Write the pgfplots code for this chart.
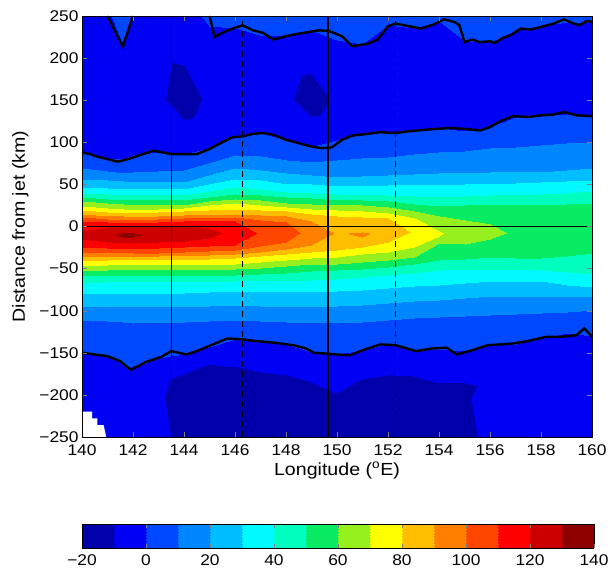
\documentclass[border=0pt]{standalone}
\usepackage{fontspec}
\setmainfont{Liberation Sans}[FakeStretch=1.12]
\usepackage{pgfplots}
\pgfplotsset{compat=1.18}
\begin{document}
\begin{tikzpicture}
\begin{axis}[
  view={0}{90},
  scale only axis, width=510pt, height=421pt,
  xmin=140, xmax=160, ymin=-250, ymax=250, zmin=-1, zmax=1,
  ztick=\empty,
  xtick={140,142,...,160},
  ytick={-250,-200,...,250},
  yticklabels={−250,−200,−150,−100,−50,0,50,100,150,200,250},
  tick align=inside,
  major tick length=5pt,
  /pgf/number format/assume math mode=true,
  ticklabel style={font=\fontsize{15.5}{17}\selectfont},
  xticklabel style={yshift=-4pt},
  label style={font=\fontsize{17.5}{20}\selectfont},
  xlabel={Longitude (\textsuperscript{o}E)},
  ylabel={Distance from jet (km)},
  ylabel style={yshift=4pt},
  axis line style={black, line width=0.6pt},
  colormap={jetlev}{rgb255=(0,0,170) rgb255=(0,0,245) rgb255=(0,72,255)
    rgb255=(0,135,255) rgb255=(0,190,255) rgb255=(0,250,255) rgb255=(0,255,190)
    rgb255=(10,235,100) rgb255=(150,240,30) rgb255=(255,255,0) rgb255=(255,190,0)
    rgb255=(255,128,0) rgb255=(255,70,0) rgb255=(255,0,0) rgb255=(205,0,0)
    rgb255=(140,0,0)},
  colormap access=piecewise constant,
  point meta min=-20, point meta max=140,
  colorbar horizontal,
  colorbar style={
    at={(0,-0.2067)}, anchor=north west,
    width=512pt, height=24pt,
    xtick={-20,0,...,140},
    xticklabels={−20,0,20,40,60,80,100,120,140},
    xtick pos=both, xticklabel pos=lower,
    tick align=inside, major tick length=4pt,
    ticklabel style={font=\fontsize{15.5}{17}\selectfont},
    xticklabel style={yshift=-3pt},
    axis line style={black, line width=0.6pt}
  },
]
\addplot3[surf, shader=interp, point meta=explicit]
  table[x=x, y=y, z expr=0, meta=v] {
x y v
140 250 -3
140 245 -3
140 152 -5
140 88 0
140 69 10
140 55 20
140 47 30
140 40 40
140 35 50
140 30 60
140 24 70
140 20 80
140 15 90
140 11 100
140 6 110
140 -5 120
140 -10 122
140 -10 122
140 -10 122
140 -15 120
140 -24 110
140 -30 100
140 -35 90
140 -40 80
140 -46 70
140 -52 60
140 -58 50
140 -67 40
140 -79 30
140 -95 20
140 -111 10
140 -150 0
140 -200 -5
140 -250 -5.5

141 250 -1
141 245 -1.5
141 152 -5
141 80 0
141 66 10
141 55 20
141 46 30
141 39 40
141 33 50
141 28 60
141 22 70
141 17 80
141 13 90
141 9 100
141 5 110
141 -1 120
141 -10 126
141 -10 126
141 -10 126
141 -18 120
141 -25 110
141 -30 100
141 -35 90
141 -40 80
141 -46 70
141 -52 60
141 -58 50
141 -66 40
141 -79 30
141 -95 20
141 -112 10
141 -154 0
141 -200 -5
141 -250 -5.5

141.6 250 3
141.6 214 0
141.6 152 -5
141.6 80 0
141.6 64 10
141.6 54 20
141.6 45 30
141.6 38 40
141.6 32 50
141.6 27 60
141.6 21 70
141.6 16 80
141.6 12 90
141.6 8 100
141.6 4 110
141.6 -1 120
141.6 -7 130
141.6 -10 134
141.6 -13 130
141.6 -19 120
141.6 -25 110
141.6 -30 100
141.6 -35 90
141.6 -39 80
141.6 -45 70
141.6 -51 60
141.6 -58 50
141.6 -65 40
141.6 -79 30
141.6 -95 20
141.6 -114 10
141.6 -163 0
141.6 -205 -5
141.6 -250 -5.5

142 250 -1
142 245 -1.5
142 152 -5
142 85 0
142 65 10
142 53 20
142 45 30
142 37 40
142 31 50
142 26 60
142 20 70
142 16 80
142 11 90
142 8 100
142 4 110
142 0 120
142 -8 130
142 -10 133
142 -12 130
142 -20 120
142 -26 110
142 -31 100
142 -36 90
142 -39 80
142 -45 70
142 -51 60
142 -58 50
142 -65 40
142 -79 30
142 -95 20
142 -115 10
142 -168 0
142 -210 -5
142 -250 -6

143 250 -3
143 245 -3
143 152 -7.5
143 89 0
143 66 10
143 53 20
143 45 30
143 37 40
143 31 50
143 26 60
143 21 70
143 17 80
143 12 90
143 9 100
143 5 110
143 0 120
143 -9 126
143 -9 126
143 -9 126
143 -18 120
143 -25 110
143 -31 100
143 -35 90
143 -39 80
143 -45 70
143 -51 60
143 -58 50
143 -65 40
143 -79 30
143 -95 20
143 -114 10
143 -156 0
143 -185 -9
143 -250 -7

144 250 -2
144 245 -2
144 152 -16
144 86 0
144 67 10
144 53 20
144 45 30
144 37 40
144 31 50
144 26 60
144 22 70
144 18 80
144 14 90
144 10 100
144 6 110
144 2 120
144 -9 127
144 -9 127
144 -9 127
144 -17 120
144 -24 110
144 -30 100
144 -34 90
144 -39 80
144 -45 70
144 -51 60
144 -58 50
144 -65 40
144 -79 30
144 -95 20
144 -113 10
144 -151 0
144 -178 -11
144 -250 -13

145 250 1
145 238 0
145 152 -7.5
145 93 0
145 75 10
145 61 20
145 51 30
145 42 40
145 35 50
145 30 60
145 25 70
145 19 80
145 14 90
145 10 100
145 6 110
145 -2 120
145 -8 123
145 -8 123
145 -8 123
145 -14 120
145 -23 110
145 -29 100
145 -34 90
145 -39 80
145 -45 70
145 -51 60
145 -58 50
145 -65 40
145 -78 30
145 -94 20
145 -112 10
145 -143 0
145 -166 -11
145 -250 -13

146 250 2
146 236 0
146 152 -5
146 106 0
146 85 10
146 69 20
146 57 30
146 47 40
146 39 50
146 33 60
146 28 70
146 20 80
146 15 90
146 11 100
146 6 110
146 -8 117
146 -8 117
146 -8 117
146 -8 117
146 -8 117
146 -22 110
146 -28 100
146 -33 90
146 -38 80
146 -45 70
146 -51 60
146 -58 50
146 -65 40
146 -77 30
146 -93 20
146 -111 10
146 -134 0
146 -169 -11
146 -250 -13

147 250 3
147 227 0
147 152 -5
147 111 0
147 84 10
147 67 20
147 55 30
147 45 40
147 37 50
147 31 60
147 26 70
147 19 80
147 14 90
147 8 100
147 -8 109
147 -8 109
147 -8 109
147 -8 109
147 -8 109
147 -8 109
147 -8 109
147 -23 100
147 -30 90
147 -35 80
147 -42 70
147 -49 60
147 -56 50
147 -64 40
147 -77 30
147 -94 20
147 -112 10
147 -136 0
147 -176 -11
147 -250 -13

148 250 3
148 226 0
148 152 -7.5
148 103 0
148 79 10
148 63 20
148 51 30
148 41 40
148 35 50
148 28 60
148 23 70
148 18 80
148 12 90
148 5 100
148 -8 104
148 -8 104
148 -8 104
148 -8 104
148 -8 104
148 -8 104
148 -8 104
148 -18 100
148 -27 90
148 -33 80
148 -40 70
148 -47 60
148 -55 50
148 -64 40
148 -77 30
148 -95 20
148 -113 10
148 -140 0
148 -180 -11
148 -250 -13

149 250 2
149 233 0
149 152 -16
149 94 0
149 77 10
149 61 20
149 50 30
149 40 40
149 34 50
149 27 60
149 21 70
149 15 80
149 7 90
149 -8 97
149 -8 97
149 -8 97
149 -8 97
149 -8 97
149 -8 97
149 -8 97
149 -8 97
149 -8 97
149 -22 90
149 -30 80
149 -38 70
149 -45 60
149 -53 50
149 -63 40
149 -77 30
149 -95 20
149 -114 10
149 -149 0
149 -188 -11
149 -250 -13

150 250 3
150 222 0
150 152 -7.5
150 103 0
150 79 10
150 59 20
150 48 30
150 39 40
150 32 50
150 26 60
150 20 70
150 12 80
150 -8 89
150 -8 89
150 -8 89
150 -8 89
150 -8 89
150 -8 89
150 -8 89
150 -8 89
150 -8 89
150 -8 89
150 -8 89
150 -28 80
150 -36 70
150 -44 60
150 -52 50
150 -62 40
150 -77 30
150 -95 20
150 -115 10
150 -152 0
150 -203 -11
150 -250 -13

151 250 3
151 217 0
151 152 -5
151 110 0
151 81 10
151 60 20
151 48 30
151 38 40
151 31 50
151 25 60
151 18 70
151 11 80
151 -6 90
151 -9 92
151 -9 92
151 -9 92
151 -9 92
151 -9 92
151 -9 92
151 -9 92
151 -9 92
151 -9 92
151 -12 90
151 -24 80
151 -33 70
151 -42 60
151 -50 50
151 -60 40
151 -75 30
151 -93 20
151 -113 10
151 -147 0
151 -185 -11
151 -250 -13

152 250 2
152 239 0
152 152 -5
152 112 0
152 83 10
152 61 20
152 49 30
152 37 40
152 30 50
152 23 60
152 16 70
152 10 80
152 -7 86
152 -7 86
152 -7 86
152 -7 86
152 -7 86
152 -7 86
152 -7 86
152 -7 86
152 -7 86
152 -7 86
152 -7 86
152 -18 80
152 -30 70
152 -40 60
152 -48 50
152 -58 40
152 -73 30
152 -91 20
152 -111 10
152 -140 0
152 -180 -11
152 -250 -13

153 250 2
153 236 0
153 152 -5
153 114 0
153 86 10
153 62 20
153 49 30
153 36 40
153 27 50
153 18 60
153 10 70
153 -7 79
153 -7 79
153 -7 79
153 -7 79
153 -7 79
153 -7 79
153 -7 79
153 -7 79
153 -7 79
153 -7 79
153 -7 79
153 -7 79
153 -7 79
153 -24 70
153 -36 60
153 -45 50
153 -55 40
153 -71 30
153 -89 20
153 -109 10
153 -147 0
153 -181 -11
153 -250 -13

154 250 1
154 244 0
154 152 -5
154 117 0
154 89 10
154 63 20
154 49 30
154 35 40
154 24 50
154 12 60
154 -5 70
154 -8 71
154 -8 71
154 -8 71
154 -8 71
154 -8 71
154 -8 71
154 -8 71
154 -8 71
154 -8 71
154 -8 71
154 -8 71
154 -8 71
154 -8 71
154 -11 70
154 -20 60
154 -40 50
154 -52 40
154 -69 30
154 -87 20
154 -107 10
154 -146 0
154 -189 -11
154 -250 -13

155 250 3
155 220 0
155 152 -5
155 114 0
155 90 10
155 64 20
155 50 30
155 36 40
155 25 50
155 8 60
155 -7 66
155 -7 66
155 -7 66
155 -7 66
155 -7 66
155 -7 66
155 -7 66
155 -7 66
155 -7 66
155 -7 66
155 -7 66
155 -7 66
155 -7 66
155 -7 66
155 -7 66
155 -21 60
155 -39 50
155 -51 40
155 -67 30
155 -85 20
155 -106 10
155 -148 0
155 -189 -11
155 -250 -13

156 250 3
156 219 0
156 152 -5
156 118 0
156 93 10
156 65 20
156 51 30
156 37 40
156 26 50
156 3 60
156 -6 62
156 -6 62
156 -6 62
156 -6 62
156 -6 62
156 -6 62
156 -6 62
156 -6 62
156 -6 62
156 -6 62
156 -6 62
156 -6 62
156 -6 62
156 -6 62
156 -6 62
156 -15 60
156 -36 50
156 -50 40
156 -65 30
156 -83 20
156 -105 10
156 -141 0
156 -190 -9
156 -250 -7

157 250 2
157 233 0
157 152 -5
157 130 0
157 95 10
157 65 20
157 52 30
157 38 40
157 26 50
157 -8 59
157 -8 59
157 -8 59
157 -8 59
157 -8 59
157 -8 59
157 -8 59
157 -8 59
157 -8 59
157 -8 59
157 -8 59
157 -8 59
157 -8 59
157 -8 59
157 -8 59
157 -8 59
157 -8 59
157 -37 50
157 -51 40
157 -65 30
157 -83 20
157 -104 10
157 -139 0
157 -200 -5
157 -250 -6

158 250 2
158 238 0
158 152 -5
158 131 0
158 97 10
158 65 20
158 53 30
158 39 40
158 26 50
158 -6 57
158 -6 57
158 -6 57
158 -6 57
158 -6 57
158 -6 57
158 -6 57
158 -6 57
158 -6 57
158 -6 57
158 -6 57
158 -6 57
158 -6 57
158 -6 57
158 -6 57
158 -6 57
158 -6 57
158 -38 50
158 -52 40
158 -65 30
158 -83 20
158 -103 10
158 -133 0
158 -200 -5
158 -250 -6

159 250 1
159 243 0
159 152 -5
159 134 0
159 99 10
159 67 20
159 54 30
159 40 40
159 27 50
159 -4 57
159 -4 57
159 -4 57
159 -4 57
159 -4 57
159 -4 57
159 -4 57
159 -4 57
159 -4 57
159 -4 57
159 -4 57
159 -4 57
159 -4 57
159 -4 57
159 -4 57
159 -4 57
159 -4 57
159 -35 50
159 -54 40
159 -69 30
159 -83 20
159 -101 10
159 -127 0
159 -200 -5
159 -250 -6

160 250 1
160 243 0
160 152 -5
160 130 0
160 100 10
160 69 20
160 55 30
160 42 40
160 28 50
160 -2 56
160 -2 56
160 -2 56
160 -2 56
160 -2 56
160 -2 56
160 -2 56
160 -2 56
160 -2 56
160 -2 56
160 -2 56
160 -2 56
160 -2 56
160 -2 56
160 -2 56
160 -2 56
160 -2 56
160 -32 50
160 -56 40
160 -72 30
160 -83 20
160 -99 10
160 -130 0
160 -200 -5
160 -250 -6
};
% missing-data patch in the lower left corner
\addplot3[fill=white, draw=none] coordinates {
  (140,-250,0) (140,-220,0) (140.4,-220,0) (140.4,-228,0) (140.6,-228,0)
  (140.6,-236,0) (140.85,-236,0) (140.95,-250,0)};
% reference lines
\addplot3[black, line width=1.4pt] coordinates {(143.5,-250,0) (143.5,250,0)};
\addplot3[black, line width=1.4pt, dash pattern=on 6pt off 4pt] coordinates {(146.3,-250,0) (146.3,250,0)};
\addplot3[black, line width=1.4pt] coordinates {(149.65,-250,0) (149.65,250,0)};
\addplot3[black, line width=1.4pt, dash pattern=on 6pt off 4pt] coordinates {(152.3,-250,0) (152.3,250,0)};
\addplot3[black, line width=1.4pt] coordinates {(140,0,0) (160,0,0)};
% zero contours
\addplot3[black, line width=2.4pt] coordinates {
  (141.0,250,0) (141.3,232,0) (141.6,214,0) (141.8,232,0) (142.0,250,0)};
\addplot3[black, line width=2.4pt] coordinates {
  (145.0,250,0) (145.2,225,0) (145.5,230,0) (145.9,235,0) (146.3,239,0)
  (146.7,233,0) (147.1,230,0) (147.5,222,0) (148.0,226,0) (148.5,229,0)
  (149.3,233,0) (149.7,232,0) (150.2,226,0) (150.6,214,0) (151.2,217,0)
  (151.6,222,0) (152.0,238,0) (152.3,241,0) (152.8,238,0) (153.3,235,0)
  (153.8,240,0) (154.2,246,0) (154.6,243,0) (154.8,239,0) (155.0,219,0)
  (155.3,222,0) (155.6,219,0) (156.0,220,0) (156.2,218,0) (156.5,224,0)
  (156.8,227,0) (157.2,235,0) (157.6,234,0) (158.0,237,0) (158.5,241,0)
  (158.9,246,0) (159.2,242,0) (159.5,239,0) (159.8,244,0) (160,243,0)};
\addplot3[black, line width=2.4pt] coordinates {
  (140,88,0) (140.3,86,0) (140.6,83,0) (141.0,80,0) (141.4,77,0) (141.8,80,0)
  (142.3,85,0) (142.8,90,0) (143.5,86,0) (144.0,86,0) (144.5,86,0) (145.0,92,0)
  (145.5,100,0) (145.9,106,0) (146.3,107,0) (146.7,110,0) (147.1,111,0)
  (147.5,109,0) (148.0,103,0) (148.5,99,0) (149.0,95,0) (149.4,93,0)
  (149.8,94,0) (150.2,103,0) (150.6,108,0) (151.2,110,0) (151.7,112,0)
  (152.3,111,0) (152.8,113,0) (153.5,115,0) (154.4,117,0) (155.0,116,0)
  (155.6,114,0) (156.0,118,0) (156.4,125,0) (156.9,131,0) (157.5,130,0)
  (158.0,132,0) (158.5,133,0) (158.9,136,0) (159.4,132,0) (160,131,0)};
\addplot3[black, line width=2.4pt] coordinates {
  (140,-150,0) (140.5,-152,0) (141.0,-154,0) (141.5,-160,0) (141.9,-170,0)
  (142.2,-166,0) (142.5,-161,0) (143.1,-155,0) (143.5,-148,0) (144.1,-152,0)
  (144.5,-148,0) (144.9,-143,0) (145.3,-138,0) (145.7,-133,0) (146.3,-134,0)
  (146.8,-136,0) (147.2,-137,0) (147.8,-139,0) (148.3,-141,0) (148.8,-145,0)
  (149.1,-150,0) (149.6,-151,0) (150.0,-152,0) (150.5,-153,0) (151.0,-147,0)
  (151.7,-140,0) (152.3,-141,0) (153.1,-148,0) (153.7,-145,0) (154.3,-144,0)
  (154.7,-152,0) (155.3,-147,0) (155.9,-141,0) (156.9,-139,0) (157.5,-136,0)
  (158.2,-131,0) (158.8,-131,0) (159.4,-129,0) (159.7,-121,0) (160,-131,0)};
\coordinate (SW) at (rel axis cs:0,0,0);
\coordinate (NE) at (rel axis cs:1,1,0);
\end{axis}
% frame with inward ticks on all four sides
\begin{axis}[
  at={(SW)}, anchor=south west,
  scale only axis, width=510pt, height=421pt,
  xmin=140, xmax=160, ymin=-250, ymax=250,
  xtick={140,142,...,160}, ytick={-250,-200,...,250},
  xticklabels={}, yticklabels={},
  tick align=inside, tick pos=both, major tick length=5pt,
  axis line style={black, line width=0.6pt},
]
\end{axis}
\pgfresetboundingbox
\path ([shift={(-82pt,-135pt)}]SW) rectangle ([shift={(19pt,16pt)}]NE);
\end{tikzpicture}
\end{document}
